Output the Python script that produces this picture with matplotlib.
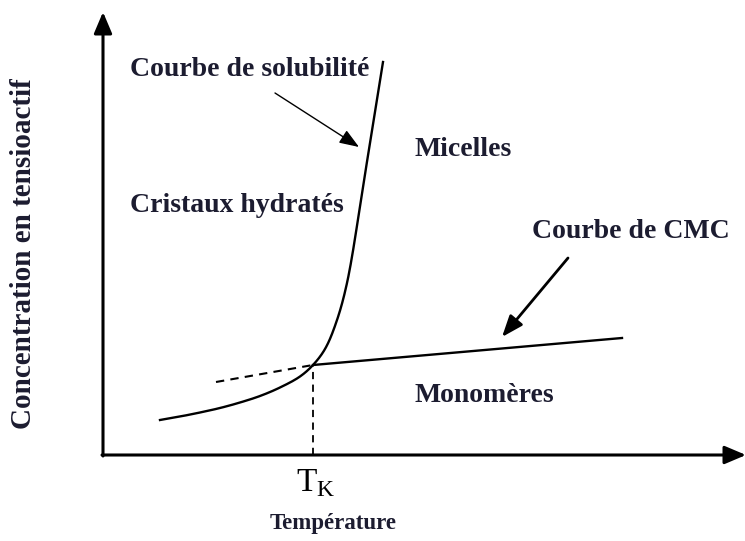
import matplotlib
matplotlib.use("Agg")
import matplotlib.pyplot as plt
import numpy as np

# Schematic coordinates (origin at the axes corner, y upward), arbitrary units
sol_x = [57, 77, 97, 117, 137, 157, 177, 197, 210, 222, 233, 244, 262, 280]
sol_y = [35, 38.5, 42.5, 47, 52.5, 59, 67.5, 78.5, 90, 106, 132, 172, 281, 393]
cmc_x = [210, 519]
cmc_y = [90, 117]
dash_x = [113, 210]
dash_y = [73, 90]
tk_x = 210

labels = {
    "sol": "Courbe de solubilité",
    "mic": "Micelles",
    "cri": "Cristaux hydratés",
    "cmc": "Courbe de CMC",
    "mono": "Monomères",
    "xlab": "Température",
    "ylab": "Concentration en tensioactif",
}

fig = plt.figure(figsize=(7.45, 5.41), dpi=100)
ax = fig.add_axes([0, 0, 1, 1])
ax.set_xlim(-103, 642)
ax.set_ylim(-86, 455)
ax.axis("off")

tc = "#1c1c30"
font = dict(family=["Liberation Serif", "DejaVu Serif"], fontweight="bold", color=tc)

# axes arrows
ax.annotate("", xy=(0, 443), xytext=(0, -1), annotation_clip=False,
            arrowprops=dict(arrowstyle="-|>,head_width=0.55,head_length=1.3", lw=2.2, color="black",
                            shrinkA=0, shrinkB=0))
ax.annotate("", xy=(643, 0), xytext=(-1, 0), annotation_clip=False,
            arrowprops=dict(arrowstyle="-|>,head_width=0.55,head_length=1.3", lw=2.2, color="black",
                            shrinkA=0, shrinkB=0))


def catmull_centripetal(px, py, n=40, alpha=0.5):
    P = np.column_stack([px, py]).astype(float)
    P = np.vstack([2 * P[0] - P[1], P, 2 * P[-1] - P[-2]])
    out = []
    for i in range(1, len(P) - 2):
        p0, p1, p2, p3 = P[i - 1], P[i], P[i + 1], P[i + 2]
        t0 = 0.0
        t1 = t0 + np.linalg.norm(p1 - p0) ** alpha
        t2 = t1 + np.linalg.norm(p2 - p1) ** alpha
        t3 = t2 + np.linalg.norm(p3 - p2) ** alpha
        for t in np.linspace(t1, t2, n, endpoint=False):
            a1 = (t1 - t) / (t1 - t0) * p0 + (t - t0) / (t1 - t0) * p1
            a2 = (t2 - t) / (t2 - t1) * p1 + (t - t1) / (t2 - t1) * p2
            a3 = (t3 - t) / (t3 - t2) * p2 + (t - t2) / (t3 - t2) * p3
            b1 = (t2 - t) / (t2 - t0) * a1 + (t - t0) / (t2 - t0) * a2
            b2 = (t3 - t) / (t3 - t1) * a2 + (t - t1) / (t3 - t1) * a3
            out.append((t2 - t) / (t2 - t1) * b1 + (t - t1) / (t2 - t1) * b2)
    out.append(P[-2])
    return np.array(out)


c = catmull_centripetal(sol_x, sol_y)
ax.plot(c[:, 0], c[:, 1], color="black", lw=1.7)
ax.plot(cmc_x, cmc_y, color="black", lw=1.7)
ax.plot(dash_x, dash_y, color="black", lw=1.5, ls=(0, (4, 3)))
ax.plot([tk_x, tk_x], [0, cmc_y[0]], color="black", lw=1.3, ls=(0, (4, 3)))

# pointer arrows
ax.annotate("", xy=(256, 308), xytext=(172, 362),
            arrowprops=dict(arrowstyle="-|>,head_width=0.45,head_length=1.2", lw=1.0, color="black",
                            shrinkA=0, shrinkB=0))
ax.annotate("", xy=(399, 118), xytext=(465, 197),
            arrowprops=dict(arrowstyle="-|>,head_width=0.5,head_length=1.3", lw=2.0, color="black",
                            shrinkA=0, shrinkB=0))

fs = 20
ax.text(27, 385, labels["sol"], ha="left", va="center", fontsize=fs, **font)
ax.text(360, 305, labels["mic"], ha="center", va="center", fontsize=fs, **font)
ax.text(27, 250, labels["cri"], ha="left", va="center", fontsize=fs, **font)
ax.text(528, 223, labels["cmc"], ha="center", va="center", fontsize=fs, **font)
ax.text(381, 59, labels["mono"], ha="center", va="center", fontsize=fs, **font)
ax.text(230, -68, labels["xlab"], ha="center", va="center", fontsize=16.5, **font)
ax.text(-79, 201, labels["ylab"], ha="center", va="center", rotation=90, fontsize=21, **font)
ax.text(213, -12, r"T$_{\mathregular{K}}$", ha="center", va="top", fontsize=24,
        family=["Liberation Serif"], color="black")

fig.savefig("out.png", dpi=100)
